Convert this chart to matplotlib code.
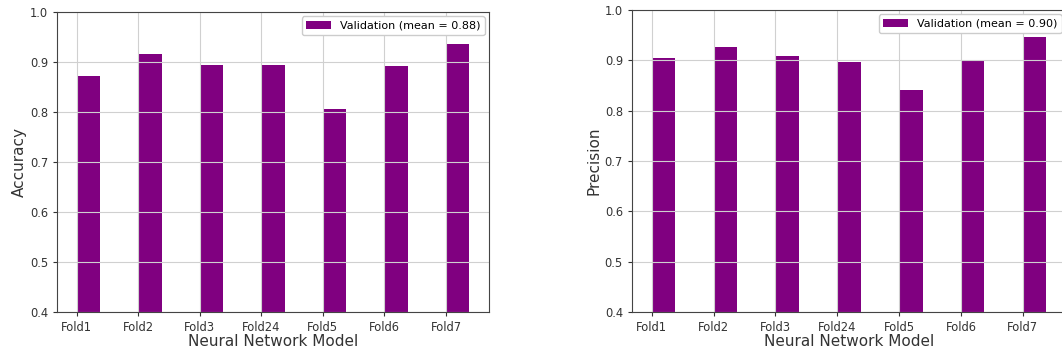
import matplotlib
matplotlib.use("Agg")
import matplotlib.pyplot as plt
import numpy as np

folds = ["Fold1", "Fold2", "Fold3", "Fold24", "Fold5", "Fold6", "Fold7"]
accuracy = [0.871, 0.916, 0.893, 0.893, 0.805, 0.891, 0.936]
precision = [0.905, 0.926, 0.909, 0.896, 0.841, 0.901, 0.946]
mean_accuracy = 0.88
mean_precision = 0.90
y_ticks = [0.4, 0.5, 0.6, 0.7, 0.8, 0.9, 1.0]

bar_color = "purple"
bar_width = 0.38
text_color = "#333333"

fig = plt.figure(figsize=(10.62, 3.56), dpi=100)
ax1 = fig.add_axes([0.0537, 0.1236, 0.4068, 0.8427])
ax2 = fig.add_axes([0.5951, 0.1236, 0.4087, 0.8483])


def draw_panel(ax, values, mean_value, ylabel):
    x = np.arange(len(folds))
    ax.bar(x, values, bar_width, align="edge", color=bar_color,
           label=f"Validation (mean = {mean_value:.2f})")
    ax.set_xticks(x)
    ax.set_xticklabels(folds, fontsize=8.3, color=text_color)
    ax.set_yticks(y_ticks)
    ax.set_yticklabels([f"{v:.1f}" for v in y_ticks], fontsize=8.3, color=text_color)
    ax.set_ylim(0.4, 1.0)
    ax.set_xlim(-0.32, len(folds) - 1 + bar_width + 0.32)
    ax.grid(True, color="#d0d0d0", linewidth=0.8)
    ax.set_xlabel("Neural Network Model", fontsize=11, color=text_color, labelpad=0)
    ax.set_ylabel(ylabel, fontsize=11, color=text_color, labelpad=2)
    ax.tick_params(axis="both", colors=text_color, labelcolor=text_color, length=3)
    for s in ax.spines.values():
        s.set_color("#444444")
    ax.legend(loc="upper right", fontsize=8, handlelength=2.2,
              borderaxespad=0.4, framealpha=1.0)


draw_panel(ax1, accuracy, mean_accuracy, "Accuracy")
draw_panel(ax2, precision, mean_precision, "Precision")

fig.savefig("out.png", dpi=100)
